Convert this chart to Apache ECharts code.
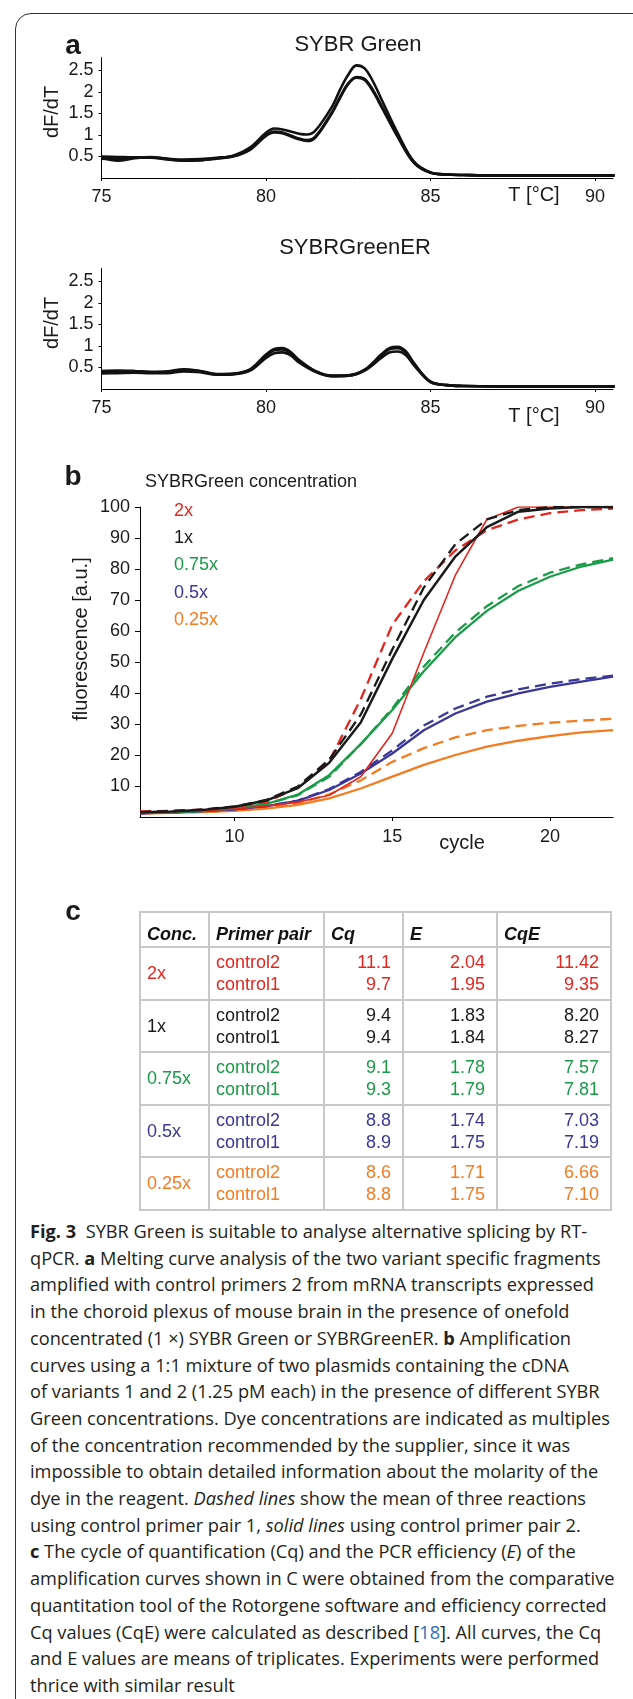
<!DOCTYPE html>
<html>
<head>
<meta charset="utf-8">
<script src="https://cdn.jsdelivr.net/npm/echarts@6/dist/echarts.min.js"></script>
<style>
html,body{margin:0;padding:0;background:#fff;}
body{width:633px;height:1699px;position:relative;overflow:hidden;font-family:'Liberation Sans',Arial,sans-serif;}
#frame{position:absolute;left:15px;top:13px;width:700px;height:1800px;border:1px solid #333;border-radius:16px;}
#chart{position:absolute;left:0;top:0;width:633px;height:940px;}
#tbl{position:absolute;left:139px;top:911px;border-collapse:collapse;table-layout:fixed;width:473px;}
#tbl th,#tbl td{border:2px solid #c8c8c8;font-size:18px;line-height:22px;padding:0 0 0 6px;overflow:hidden;white-space:nowrap;}
#tbl tr.hd{height:35px;}
#tbl tr.bd{height:52.5px;}
#tbl th{text-align:left;vertical-align:bottom;font-weight:bold;font-style:italic;color:#111;padding-bottom:1px;}
#tbl td{vertical-align:middle;}
#tbl td.n{text-align:right;padding-right:11px;padding-left:0;}
#cap{position:absolute;left:30px;top:1218px;font-family:'Open Sans','Noto Sans',sans-serif;font-size:18px;line-height:26.7px;color:#231f20;white-space:nowrap;transform-origin:0 0;}
#cap b{font-weight:bold;}
#cap .ref{color:#2f6db5;}
</style>
</head>
<body>
<div id="frame"></div>
<div id="chart"></div>
<table id="tbl"></table>
<div id="cap"></div>
<script>
// panel a: melting curves, SYBR Green
var tempSybr = [75, 75.5, 76, 76.5, 77, 77.5, 78, 78.5, 79, 79.5, 80, 80.25, 80.5, 81, 81.25, 81.5, 82, 82.25, 82.5, 82.75, 83, 83.25, 83.5, 84, 84.5, 85, 85.5, 86, 87, 88, 89, 90, 90.6];
var sybrRep1 = [0.50,0.49,0.48,0.48,0.45,0.43,0.44,0.47,0.52,0.70,1.05,1.15,1.13,1.03,1.01,1.10,1.65,2.05,2.40,2.62,2.55,2.25,1.85,1.05,0.38,0.13,0.08,0.07,0.06,0.06,0.06,0.06,0.06];
var sybrRep2 = [0.47,0.40,0.46,0.49,0.44,0.41,0.42,0.46,0.51,0.66,1.00,1.08,1.06,0.92,0.88,0.96,1.52,1.88,2.20,2.35,2.30,2.05,1.70,0.98,0.36,0.13,0.08,0.07,0.06,0.06,0.06,0.06,0.06];
var sybrRep3 = [0.45,0.44,0.47,0.47,0.43,0.40,0.41,0.45,0.50,0.65,0.98,1.06,1.04,0.90,0.86,0.94,1.50,1.86,2.18,2.33,2.28,2.02,1.67,0.96,0.35,0.12,0.08,0.07,0.06,0.06,0.06,0.06,0.06];
// panel a: SYBRGreenER
var tempEr = [75, 75.5, 76, 76.5, 77, 77.5, 78, 78.5, 79, 79.5, 80, 80.25, 80.5, 80.75, 81, 81.5, 82, 82.5, 83, 83.5, 83.75, 84, 84.25, 84.5, 85, 85.5, 86, 87, 88, 89, 90, 90.6];
var erRep1 = [0.42,0.43,0.42,0.40,0.41,0.46,0.42,0.35,0.36,0.45,0.80,0.93,0.95,0.86,0.68,0.42,0.31,0.32,0.45,0.80,0.95,0.98,0.88,0.60,0.17,0.09,0.07,0.06,0.06,0.06,0.06,0.06];
var erRep2 = [0.36,0.37,0.38,0.37,0.37,0.41,0.39,0.33,0.34,0.42,0.72,0.83,0.85,0.78,0.62,0.40,0.30,0.31,0.43,0.72,0.85,0.87,0.79,0.55,0.16,0.09,0.07,0.06,0.06,0.06,0.06,0.06];
var erRep3 = [0.39,0.40,0.40,0.39,0.39,0.44,0.41,0.34,0.35,0.44,0.77,0.90,0.92,0.83,0.66,0.41,0.30,0.31,0.44,0.77,0.92,0.95,0.85,0.58,0.17,0.09,0.07,0.06,0.06,0.06,0.06,0.06];
var tempTicks = [75, 80, 85, 90];
var dfTicks = [0.5, 1, 1.5, 2, 2.5];

// panel b: amplification curves (control2 = solid, control1 = dashed)
var cycles = [7, 8, 9, 10, 11, 12, 13, 14, 15, 16, 17, 18, 19, 20, 21, 22];
var red2 = [1.5,1.7,2.0,2.6,3.5,4.8,7.0,13,27,53,78,96,100,100,100,100];
var red1 = [1.8,2.0,2.4,3.2,4.8,9.5,18,38,62,76,86,92.5,96,98,99,99.5];
var black2 = [1.5,1.8,2.3,3.3,5.3,9.3,17.5,30.5,51,70,84,93.5,98.5,99.5,100,100];
var black1 = [1.6,1.9,2.4,3.4,5.5,9.8,18.5,33,54,74,88,96,99,100,100,100];
var green2 = [1.3,1.6,2.0,2.8,4.2,7.2,13.5,23.5,34.5,47,58,66.5,73,77.5,80.8,83];
var green1 = [1.3,1.6,2.0,2.8,4.2,7.0,13.0,23.5,35,48.5,59.5,68,74.5,78.8,81.5,83.5];
var blue2 = [1.2,1.5,1.9,2.5,3.5,5.2,8.7,14,20.5,28,33.4,37.2,39.9,42,43.7,45.3];
var blue1 = [1.2,1.5,1.9,2.5,3.5,5.3,9.0,14.5,21.5,29.5,35,38.8,41.2,43,44.5,45.6];
var orange2 = [1.1,1.3,1.6,2.0,2.7,3.9,6.0,9.2,13,16.8,20,22.7,24.6,26.1,27.3,28];
var orange1 = [1.2,1.4,1.7,2.2,3.0,4.4,7.3,11.8,17.8,22.2,25.7,28,29.4,30.4,31.1,31.7];
var cycleTicks = [10, 15, 20];
var fluoTicks = [10, 20, 30, 40, 50, 60, 70, 80, 90, 100];

// panel c: table
var concLabels = ['2x', '1x', '0.75x', '0.5x', '0.25x'];
var concColors = ['#e3261f', '#1a1a1a', '#1a9b48', '#3b3796', '#f47b20'];
var primerPairs = ['control2', 'control1'];
var cqCtrl2 = [11.1, 9.4, 9.1, 8.8, 8.6];
var cqCtrl1 = [9.7, 9.4, 9.3, 8.9, 8.8];
var eCtrl2 = [2.04, 1.83, 1.78, 1.74, 1.71];
var eCtrl1 = [1.95, 1.84, 1.79, 1.75, 1.75];
var cqeCtrl2 = [11.42, 8.20, 7.57, 7.03, 6.66];
var cqeCtrl1 = [9.35, 8.27, 7.81, 7.19, 7.10];

var FONT = "'Liberation Sans', Arial, sans-serif";

function pairs(xs, ys) {
  return xs.map(function (x, i) { return [x, ys[i]]; });
}

function meltSeries(grid, xs, ys) {
  return {
    type: 'line', xAxisIndex: grid, yAxisIndex: grid, data: pairs(xs, ys),
    smooth: 0.35, showSymbol: false, silent: true,
    lineStyle: { color: '#111', width: 2.6 }
  };
}

function ampSeries(ys, color, dashed, width) {
  return {
    type: 'line', xAxisIndex: 2, yAxisIndex: 2, data: pairs(cycles, ys),
    showSymbol: false, silent: true,
    lineStyle: { color: color, width: width, type: dashed ? [11, 6] : 'solid' }
  };
}

function valueAxis(grid, min, max, ticks, margin, tickLen) {
  return {
    type: 'value', gridIndex: grid, min: min, max: max,
    axisLine: { show: true, onZero: false, lineStyle: { color: '#000', width: 1 } },
    axisTick: { show: true, inside: false, length: tickLen, customValues: ticks, lineStyle: { color: '#000' } },
    axisLabel: { show: true, customValues: ticks, margin: margin, fontSize: 18, color: '#1a1a1a', fontFamily: FONT },
    splitLine: { show: false }
  };
}

function label(text, x, y, size, opts) {
  opts = opts || {};
  return {
    type: 'text', x: x, y: y, rotation: opts.rot || 0, silent: true,
    style: {
      text: text, fontSize: size, fontFamily: FONT, fill: opts.color || '#1a1a1a',
      fontWeight: opts.bold ? 'bold' : 'normal',
      align: opts.align || 'center', verticalAlign: 'middle'
    }
  };
}

var graphics = [
  label('a', 73, 46, 28, { bold: true }),
  label('SYBR Green', 358, 45, 22),
  label('dF/dT', 52, 112, 20, { rot: Math.PI / 2 }),
  label('T [°C]', 534, 195, 20),
  label('SYBRGreenER', 355, 248, 22),
  label('dF/dT', 52, 323, 20, { rot: Math.PI / 2 }),
  label('T [°C]', 534, 416, 20),
  label('b', 73, 477, 28, { bold: true }),
  label('SYBRGreen concentration', 145, 482, 18, { align: 'left' }),
  label('fluorescence [a.u.]', 81, 639, 20, { rot: Math.PI / 2 }),
  label('cycle', 462, 843, 20),
  label('c', 73, 912, 28, { bold: true })
];
concLabels.forEach(function (c, i) {
  graphics.push(label(c, 174, 511 + i * 27.2, 18, { align: 'left', color: concColors[i] }));
});

var chart = echarts.init(document.getElementById('chart'), null, { renderer: 'canvas' });
chart.setOption({
  animation: false,
  grid: [
    { left: 101.5, top: 57.6, width: 511.5, height: 120.4 },
    { left: 101.5, top: 268.5, width: 511.5, height: 120.5 },
    { left: 140, top: 507, width: 473, height: 310 }
  ],
  xAxis: [
    valueAxis(0, 75, 90.55, tempTicks, 10, 3),
    valueAxis(1, 75, 90.55, tempTicks, 10, 3),
    valueAxis(2, 7, 22, cycleTicks, 11, 4)
  ],
  yAxis: [
    valueAxis(0, 0, 2.8, dfTicks, 8, 3),
    valueAxis(1, 0, 2.8, dfTicks, 8, 3),
    valueAxis(2, 0, 100, fluoTicks, 10, 5)
  ],
  graphic: graphics,
  series: [
    meltSeries(0, tempSybr, sybrRep1),
    meltSeries(0, tempSybr, sybrRep2),
    meltSeries(0, tempSybr, sybrRep3),
    meltSeries(1, tempEr, erRep1),
    meltSeries(1, tempEr, erRep2),
    meltSeries(1, tempEr, erRep3),
    ampSeries(orange1, concColors[4], true, 2.3),
    ampSeries(orange2, concColors[4], false, 2.3),
    ampSeries(blue1, concColors[3], true, 2.3),
    ampSeries(blue2, concColors[3], false, 2.3),
    ampSeries(green1, concColors[2], true, 2.3),
    ampSeries(green2, concColors[2], false, 2.3),
    ampSeries(red1, concColors[0], true, 2.3),
    ampSeries(red2, concColors[0], false, 1.6),
    ampSeries(black1, concColors[1], true, 2.3),
    ampSeries(black2, concColors[1], false, 2.5)
  ]
});

// table c
var rows = '<colgroup><col style="width:69px"><col style="width:115px"><col style="width:79px"><col style="width:94px"><col style="width:114px"></colgroup>';
rows += '<tr class="hd"><th>Conc.</th><th>Primer pair</th><th>Cq</th><th>E</th><th>CqE</th></tr>';
concLabels.forEach(function (c, i) {
  rows += '<tr class="bd" style="color:' + concColors[i] + '">' +
    '<td>' + c + '</td>' +
    '<td>' + primerPairs.join('<br>') + '</td>' +
    '<td class="n">' + cqCtrl2[i].toFixed(1) + '<br>' + cqCtrl1[i].toFixed(1) + '</td>' +
    '<td class="n">' + eCtrl2[i].toFixed(2) + '<br>' + eCtrl1[i].toFixed(2) + '</td>' +
    '<td class="n">' + cqeCtrl2[i].toFixed(2) + '<br>' + cqeCtrl1[i].toFixed(2) + '</td></tr>';
});
document.getElementById('tbl').innerHTML = rows;

// caption
var capLines = [
  '<b>Fig. 3</b>&nbsp; SYBR Green is suitable to analyse alternative splicing by RT-',
  'qPCR. <b>a</b> Melting curve analysis of the two variant specific fragments',
  'amplified with control primers 2 from mRNA transcripts expressed',
  'in the choroid plexus of mouse brain in the presence of onefold',
  'concentrated (1 ×) SYBR Green or SYBRGreenER. <b>b</b> Amplification',
  'curves using a 1:1 mixture of two plasmids containing the cDNA',
  'of variants 1 and 2 (1.25 pM each) in the presence of different SYBR',
  'Green concentrations. Dye concentrations are indicated as multiples',
  'of the concentration recommended by the supplier, since it was',
  'impossible to obtain detailed information about the molarity of the',
  'dye in the reagent. <i>Dashed lines</i> show the mean of three reactions',
  'using control primer pair 1, <i>solid lines</i> using control primer pair 2.',
  '<b>c</b> The cycle of quantification (Cq) and the PCR efficiency (<i>E</i>) of the',
  'amplification curves shown in C were obtained from the comparative',
  'quantitation tool of the Rotorgene software and efficiency corrected',
  'Cq values (CqE) were calculated as described [<span class="ref">18</span>]. All curves, the Cq',
  'and E values are means of triplicates. Experiments were performed',
  'thrice with similar result'
];
var cap = document.getElementById('cap');
cap.innerHTML = capLines.map(function (l) { return '<div><span>' + l + '</span></div>'; }).join('');
var refW = cap.children[7].firstChild.getBoundingClientRect().width;
cap.style.transform = 'scaleX(' + (580 / refW) + ')';
</script>
</body>
</html>
